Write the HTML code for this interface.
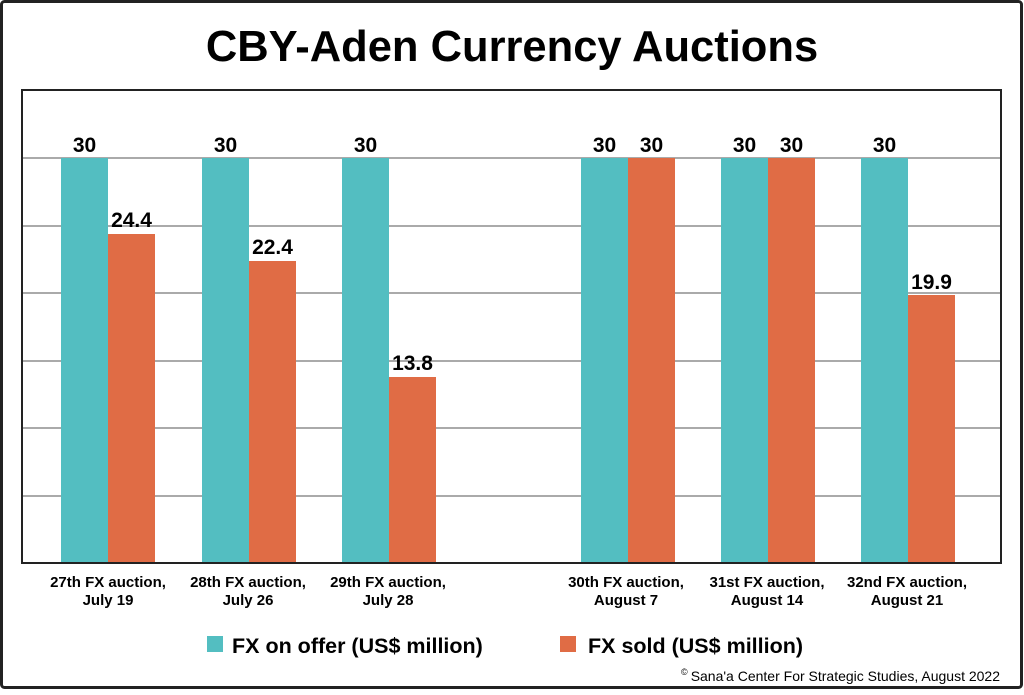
<!DOCTYPE html>
<html><head><meta charset="utf-8"><style>
body{margin:0;background:#fff;}
svg text{font-family:"Liberation Sans",Arial,sans-serif;fill:#000;}
</style></head><body>
<svg width="1024" height="690" viewBox="0 0 1024 690" xmlns="http://www.w3.org/2000/svg">
<rect x="1.5" y="1.5" width="1020" height="686" fill="#fff" stroke="#222" stroke-width="3" rx="3"/>
<text x="512" y="61" font-size="43.5" font-weight="bold" text-anchor="middle">CBY-Aden Currency Auctions</text>
<g stroke="#777" stroke-width="1.3">
<line x1="22" y1="158" x2="1001" y2="158"/>
<line x1="22" y1="226" x2="1001" y2="226"/>
<line x1="22" y1="293" x2="1001" y2="293"/>
<line x1="22" y1="361" x2="1001" y2="361"/>
<line x1="22" y1="428" x2="1001" y2="428"/>
<line x1="22" y1="496" x2="1001" y2="496"/>
</g>
<g fill="#53bec1">
<rect x="61" y="158" width="47" height="405"/>
<rect x="202" y="158" width="47" height="405"/>
<rect x="342" y="158" width="47" height="405"/>
<rect x="581" y="158" width="47" height="405"/>
<rect x="721" y="158" width="47" height="405"/>
<rect x="861" y="158" width="47" height="405"/>
</g>
<g fill="#e06c45">
<rect x="108" y="234" width="47" height="329"/>
<rect x="249" y="261" width="47" height="302"/>
<rect x="389" y="377" width="47" height="186"/>
<rect x="628" y="158" width="47" height="405"/>
<rect x="768" y="158" width="47" height="405"/>
<rect x="908" y="295" width="47" height="268"/>
</g>
<rect x="22" y="90" width="979" height="473" fill="none" stroke="#222" stroke-width="2"/>
<g font-size="21" text-anchor="middle" font-weight="bold">
<text x="84.5" y="152">30</text><text x="131.5" y="227">24.4</text>
<text x="225.5" y="152">30</text><text x="272.5" y="254">22.4</text>
<text x="365.5" y="152">30</text><text x="412.5" y="370">13.8</text>
<text x="604.5" y="152">30</text><text x="651.5" y="152">30</text>
<text x="744.5" y="152">30</text><text x="791.5" y="152">30</text>
<text x="884.5" y="152">30</text><text x="931.5" y="289">19.9</text>
</g>
<g font-size="15" text-anchor="middle" font-weight="bold" fill="#222">
<text x="108" y="587">27th FX auction,</text><text x="108" y="605">July 19</text>
<text x="248" y="587">28th FX auction,</text><text x="248" y="605">July 26</text>
<text x="388" y="587">29th FX auction,</text><text x="388" y="605">July 28</text>
<text x="626" y="587">30th FX auction,</text><text x="626" y="605">August 7</text>
<text x="767" y="587">31st FX auction,</text><text x="767" y="605">August 14</text>
<text x="907" y="587">32nd FX auction,</text><text x="907" y="605">August 21</text>
</g>
<rect x="207" y="636" width="16" height="16" fill="#53bec1"/>
<text x="232" y="653" font-size="21.5" font-weight="bold">FX on offer (US$ million)</text>
<rect x="560" y="636" width="16" height="16" fill="#e06c45"/>
<text x="588" y="653" font-size="21.5" font-weight="bold">FX sold (US$ million)</text>
<text x="681" y="675" font-size="9">©</text>
<text x="1000" y="681" font-size="14" text-anchor="end">Sana'a Center For Strategic Studies, August 2022</text>
</svg>
</body></html>
